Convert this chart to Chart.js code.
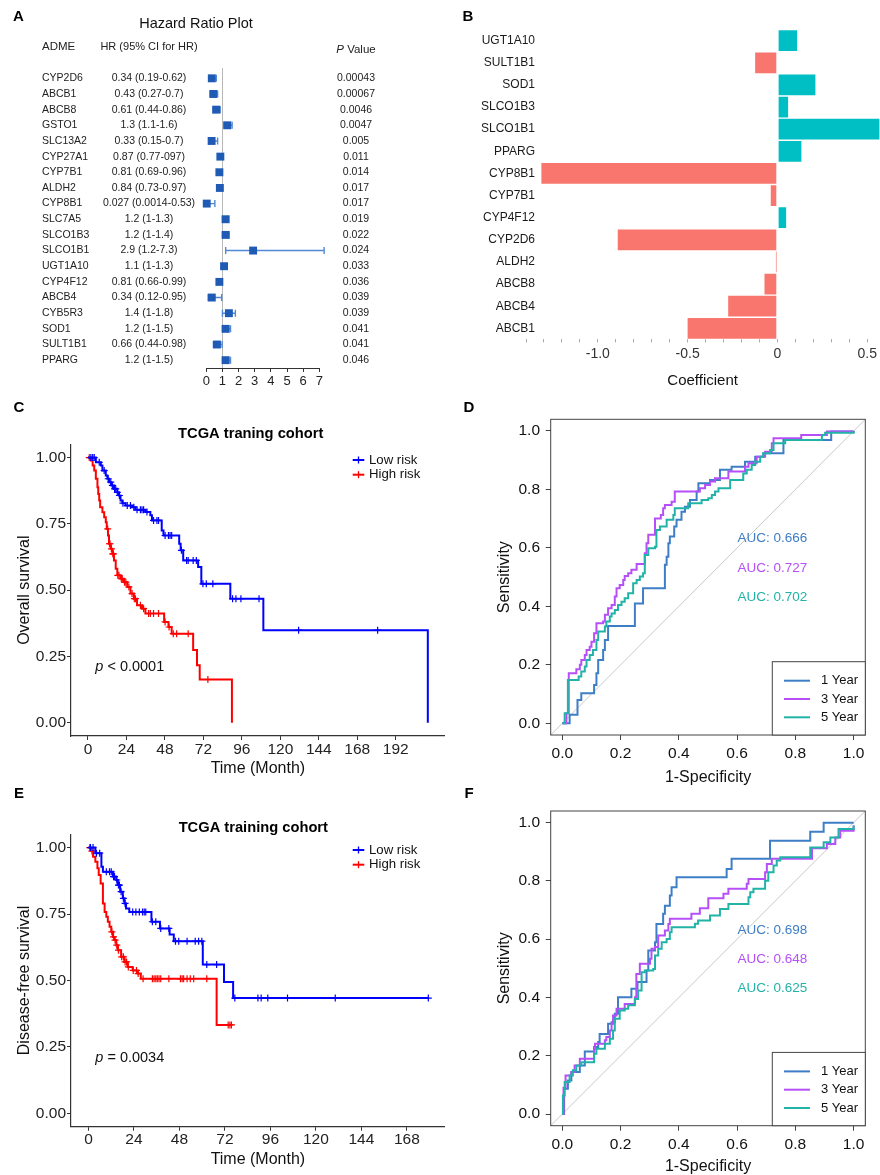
<!DOCTYPE html>
<html lang="en">
<head>
  <meta charset="UTF-8">
  <title>ADME gene model: hazard ratios, coefficients, survival and ROC</title>
  <style>
    body { margin: 0; background: #fff; }
    #page { position: relative; width: 880px; height: 1175px; overflow: hidden; }
    canvas { position: absolute; }
  </style>
</head>
<body>
<div id="page">
  <canvas id="chartA" width="440" height="395" style="left:0;top:0"></canvas>
  <canvas id="chartB" width="440" height="395" style="left:440px;top:0"></canvas>
  <canvas id="chartC" width="450" height="380" style="left:0;top:400px"></canvas>
  <canvas id="chartD" width="440" height="390" style="left:440px;top:400px"></canvas>
  <canvas id="chartE" width="450" height="395" style="left:0;top:780px"></canvas>
  <canvas id="chartF" width="440" height="398" style="left:440px;top:780px"></canvas>
</div>

<script src="https://cdn.jsdelivr.net/npm/chart.js"></script>
<script>
  // ---- A: univariate Cox results ----
  const admeGenes = ['CYP2D6', 'ABCB1', 'ABCB8', 'GSTO1', 'SLC13A2', 'CYP27A1', 'CYP7B1', 'ALDH2', 'CYP8B1',
    'SLC7A5', 'SLCO1B3', 'SLCO1B1', 'UGT1A10', 'CYP4F12', 'ABCB4', 'CYB5R3', 'SOD1', 'SULT1B1', 'PPARG'];
  const hrValue = [0.34, 0.43, 0.61, 1.3, 0.33, 0.87, 0.81, 0.84, 0.027, 1.2, 1.2, 2.9, 1.1, 0.81, 0.34, 1.4, 1.2, 0.66, 1.2];
  const hrLow = [0.19, 0.27, 0.44, 1.1, 0.15, 0.77, 0.69, 0.73, 0.0014, 1, 1, 1.2, 1, 0.66, 0.12, 1, 1, 0.44, 1];
  const hrHigh = [0.62, 0.7, 0.86, 1.6, 0.7, 0.97, 0.96, 0.97, 0.53, 1.3, 1.4, 7.3, 1.3, 0.99, 0.95, 1.8, 1.5, 0.98, 1.5];
  const hrLabel = ['0.34 (0.19-0.62)', '0.43 (0.27-0.7)', '0.61 (0.44-0.86)', '1.3 (1.1-1.6)', '0.33 (0.15-0.7)',
    '0.87 (0.77-097)', '0.81 (0.69-0.96)', '0.84 (0.73-0.97)', '0.027 (0.0014-0.53)', '1.2 (1-1.3)', '1.2 (1-1.4)',
    '2.9 (1.2-7.3)', '1.1 (1-1.3)', '0.81 (0.66-0.99)', '0.34 (0.12-0.95)', '1.4 (1-1.8)', '1.2 (1-1.5)',
    '0.66 (0.44-0.98)', '1.2 (1-1.5)'];
  const pValue = ['0.00043', '0.00067', '0.0046', '0.0047', '0.005', '0.011', '0.014', '0.017', '0.017', '0.019',
    '0.022', '0.024', '0.033', '0.036', '0.039', '0.039', '0.041', '0.041', '0.046'];
  const hrTicks = [0, 1, 2, 3, 4, 5, 6, 7];

  // ---- B: LASSO coefficients ----
  const coefGenes = ['UGT1A10', 'SULT1B1', 'SOD1', 'SLCO1B3', 'SLCO1B1', 'PPARG', 'CYP8B1', 'CYP7B1', 'CYP4F12',
    'CYP2D6', 'ALDH2', 'ABCB8', 'ABCB4', 'ABCB1'];
  const coefValue = [0.113, -0.128, 0.215, 0.063, 0.62, 0.137, -1.318, -0.041, 0.052, -0.893, -0.011, -0.076, -0.278, -0.504];
  const coefTicks = [-1.4, -1.3, -1.2, -1.1, -1.0, -0.9, -0.8, -0.7, -0.6, -0.5, -0.4, -0.3, -0.2, -0.1,
    0, 0.1, 0.2, 0.3, 0.4, 0.5];
  const coefTickText = { '-1': '-1.0', '-0.5': '-0.5', '0': '0', '0.5': '0.5' };

  // ---- C: overall survival (months) ----
  const osLowTime = [4.9, 8.0, 9.0, 11.1, 12.1, 13.1, 14.6, 16.2, 18.3, 19.3, 20.3, 21.4, 23.4, 27.5, 29.6, 35.8,
    38.9, 39.9, 46.0, 47.1, 56.9, 57.8, 59.4, 68.7, 70.7, 88.8, 109.4, 212.0];
  const osLowSurv = [0.982, 0.970, 0.951, 0.932, 0.920, 0.907, 0.895, 0.882, 0.869, 0.857, 0.838, 0.828, 0.819,
    0.813, 0.803, 0.795, 0.782, 0.763, 0.725, 0.706, 0.675, 0.650, 0.612, 0.587, 0.524, 0.468, 0.349, 0];
  const osLowCensor = [1.8, 2.9, 3.9, 7.0, 10.1, 12.6, 14.2, 15.2, 16.6, 17.3, 18.3, 19.6, 21.8, 24.5, 26.5, 28.6,
    30.6, 32.7, 33.7, 34.7, 36.8, 40.9, 43.0, 44.0, 48.1, 50.2, 51.2, 52.2, 58.3, 61.5, 62.5, 65.6, 67.6, 71.7, 73.8,
    77.9, 90.2, 92.3, 95.4, 106.7, 131.4, 180.7];
  const osHighTime = [1.8, 2.9, 3.9, 4.9, 5.9, 6.4, 7.0, 7.6, 9.0, 10.1, 11.1, 11.7, 12.5, 13.1, 14.2, 15.2, 16.2,
    17.3, 18.3, 20.3, 22.4, 24.5, 26.5, 28.6, 30.6, 33.7, 35.8, 47.5, 50.2, 52.2, 65.6, 68.0, 69.7, 89.8];
  const osHighSurv = [0.989, 0.970, 0.951, 0.920, 0.888, 0.863, 0.838, 0.813, 0.794, 0.775, 0.756, 0.731, 0.706,
    0.675, 0.656, 0.637, 0.612, 0.581, 0.556, 0.543, 0.530, 0.512, 0.487, 0.468, 0.443, 0.430, 0.412, 0.380, 0.361,
    0.336, 0.274, 0.217, 0.163, 0];
  const osHighCensor = [0.8, 12.3, 13.4, 13.7, 14.6, 15.5, 15.8, 18.6, 19.3, 20.8, 21.4, 22.8, 23.6, 25.5, 27.5,
    28.9, 29.6, 32.7, 34.7, 37.8, 38.9, 40.9, 44.0, 48.1, 50.6, 53.2, 55.3, 62.5, 74.8];
  const osMonthTicks = [0, 24, 48, 72, 96, 120, 144, 168, 192];

  // ---- E: disease-free survival (months) ----
  const dfsLowTime = [3.6, 6.8, 7.6, 12.9, 14.6, 15.5, 16.7, 18.1, 19.0, 19.8, 21.5, 33.2, 37.7, 42.8, 45.0, 60.3,
    71.5, 76.3];
  const dfsLowSurv = [0.979, 0.928, 0.909, 0.891, 0.878, 0.859, 0.834, 0.809, 0.790, 0.771, 0.758, 0.721, 0.696,
    0.673, 0.648, 0.560, 0.494, 0.434];
  const dfsLowCensor = [1.0, 2.4, 4.2, 5.9, 9.4, 11.1, 12.0, 13.2, 13.7, 14.9, 15.8, 16.3, 17.2, 18.4, 19.3, 23.3,
    25.0, 26.8, 28.5, 29.4, 30.2, 33.7, 35.5, 38.1, 42.4, 45.9, 47.6, 52.0, 56.3, 58.1, 59.8, 62.4, 67.6, 77.2, 89.4,
    91.1, 94.6, 105.0, 130.2, 179.3];
  const dfsHighTime = [1.5, 2.4, 3.6, 4.7, 5.4, 6.4, 7.6, 8.5, 9.4, 10.2, 11.1, 12.0, 12.9, 13.7, 14.6, 15.5, 17.2,
    18.9, 20.7, 23.3, 25.9, 27.6, 67.6];
  const dfsHighSurv = [0.987, 0.966, 0.947, 0.922, 0.897, 0.865, 0.790, 0.758, 0.740, 0.721, 0.702, 0.683, 0.664,
    0.652, 0.633, 0.614, 0.589, 0.570, 0.551, 0.538, 0.526, 0.507, 0.333];
  const dfsHighCensor = [0.7, 1.8, 12.3, 13.2, 14.0, 14.9, 15.8, 17.5, 18.4, 19.3, 20.1, 21.0, 23.6, 25.3, 26.2,
    28.8, 33.7, 34.6, 35.5, 36.3, 37.2, 38.1, 42.4, 48.5, 49.4, 50.2, 52.0, 53.7, 55.5, 62.4, 73.7, 74.6, 75.4];
  const dfsMonthTicks = [0, 24, 48, 72, 96, 120, 144, 168];
  const survTicks = [0, 0.25, 0.5, 0.75, 1];

  // ---- D / F: time-dependent ROC, [1-specificity, sensitivity] ----
  const rocOs1y = [[0,0],[0.025,0.029],[0.052,0.080],[0.065,0.103],[0.109,0.131],[0.117,0.171],[0.123,0.217],
    [0.140,0.251],[0.146,0.285],[0.157,0.333],[0.249,0.410],[0.277,0.462],[0.352,0.542],[0.358,0.570],[0.364,0.616],
    [0.369,0.639],[0.384,0.673],[0.392,0.696],[0.409,0.724],[0.421,0.741],[0.438,0.764],[0.461,0.793],[0.467,0.821],
    [0.507,0.832],[0.541,0.867],[0.581,0.878],[0.627,0.895],[0.662,0.912],[0.690,0.924],[0.759,0.969],[0.923,0.998],[1,1]];
  const rocOs3y = [[0,0],[0.014,0.034],[0.022,0.171],[0.048,0.185],[0.060,0.200],[0.065,0.217],[0.077,0.234],
    [0.083,0.251],[0.094,0.262],[0.100,0.279],[0.109,0.308],[0.117,0.342],[0.140,0.348],[0.146,0.371],[0.157,0.394],
    [0.169,0.405],[0.180,0.434],[0.186,0.462],[0.197,0.473],[0.209,0.490],[0.214,0.504],[0.226,0.513],[0.237,0.525],
    [0.255,0.545],[0.283,0.582],[0.289,0.616],[0.295,0.645],[0.318,0.701],[0.338,0.713],[0.346,0.736],[0.352,0.747],
    [0.375,0.758],[0.386,0.793],[0.472,0.804],[0.490,0.815],[0.507,0.827],[0.524,0.838],[0.570,0.861],[0.627,0.878],
    [0.639,0.890],[0.667,0.912],[0.696,0.929],[0.719,0.958],[0.725,0.975],[0.820,0.986],[0.908,0.998],[1,1]];
  const rocOs5y = [[0,0],[0.008,0.034],[0.019,0.148],[0.056,0.160],[0.065,0.177],[0.077,0.194],[0.083,0.217],
    [0.094,0.234],[0.105,0.251],[0.117,0.285],[0.123,0.314],[0.146,0.331],[0.151,0.348],[0.163,0.365],[0.169,0.376],
    [0.180,0.388],[0.191,0.405],[0.203,0.416],[0.214,0.428],[0.226,0.445],[0.243,0.479],[0.255,0.490],[0.266,0.502],
    [0.277,0.513],[0.283,0.576],[0.295,0.599],[0.318,0.604],[0.323,0.661],[0.335,0.673],[0.358,0.696],[0.381,0.713],
    [0.386,0.736],[0.432,0.753],[0.478,0.764],[0.501,0.770],[0.513,0.781],[0.524,0.793],[0.536,0.804],[0.576,0.832],
    [0.621,0.855],[0.633,0.867],[0.650,0.884],[0.662,0.895],[0.679,0.912],[0.690,0.924],[0.713,0.935],[0.725,0.958],
    [0.765,0.969],[0.891,0.986],[0.902,0.994],[1,1]];
  const rocDfs1y = [[0,0],[0.006,0.087],[0.019,0.115],[0.031,0.144],[0.060,0.167],[0.077,0.215],[0.109,0.230],
    [0.123,0.247],[0.128,0.275],[0.157,0.310],[0.169,0.315],[0.180,0.344],[0.191,0.401],[0.237,0.430],[0.258,0.453],
    [0.289,0.493],[0.295,0.561],[0.318,0.590],[0.323,0.652],[0.346,0.687],[0.352,0.715],[0.369,0.750],[0.375,0.778],
    [0.392,0.813],[0.564,0.841],[0.581,0.876],[0.713,0.938],[0.851,0.969],[0.897,1.0],[1,1]];
  const rocDfs3y = [[0,0],[0.004,0.090],[0.011,0.132],[0.031,0.144],[0.042,0.167],[0.060,0.190],[0.109,0.224],
    [0.112,0.241],[0.146,0.253],[0.151,0.264],[0.163,0.287],[0.169,0.310],[0.174,0.338],[0.186,0.361],[0.214,0.378],
    [0.249,0.401],[0.254,0.481],[0.266,0.516],[0.301,0.533],[0.306,0.567],[0.318,0.573],[0.329,0.613],[0.352,0.630],
    [0.364,0.652],[0.369,0.670],[0.443,0.687],[0.472,0.706],[0.501,0.741],[0.553,0.756],[0.570,0.773],[0.633,0.790],
    [0.639,0.807],[0.696,0.830],[0.702,0.858],[0.719,0.876],[0.857,0.912],[0.908,0.927],[0.937,0.949],[0.954,0.972],[1,0.99]];
  const rocDfs5y = [[0,0],[0.002,0.064],[0.008,0.110],[0.025,0.132],[0.036,0.150],[0.048,0.167],[0.065,0.178],
    [0.109,0.207],[0.117,0.224],[0.146,0.241],[0.163,0.258],[0.174,0.287],[0.180,0.327],[0.197,0.355],[0.214,0.361],
    [0.226,0.373],[0.249,0.395],[0.260,0.424],[0.272,0.487],[0.283,0.493],[0.312,0.498],[0.318,0.544],[0.329,0.567],
    [0.341,0.590],[0.358,0.601],[0.369,0.624],[0.375,0.641],[0.455,0.653],[0.466,0.664],[0.507,0.681],[0.541,0.704],
    [0.570,0.721],[0.639,0.744],[0.645,0.761],[0.656,0.773],[0.696,0.801],[0.707,0.830],[0.725,0.853],[0.736,0.870],
    [0.748,0.881],[0.851,0.915],[0.897,0.933],[0.920,0.949],[0.948,0.978],[1,0.99]];
  const rocYears = ['1 Year', '3 Year', '5 Year'];
  const aucOs = ['0.666', '0.727', '0.702'];
  const aucDfs = ['0.698', '0.648', '0.625'];
  const rocTicks = [0, 0.2, 0.4, 0.6, 0.8, 1.0];

  // ---- shared style ----
  const FF = '"Liberation Sans", Arial, sans-serif';
  const F = (size, style) => (style || 'normal') + ' ' + size + 'px ' + FF;
  const rocColors = ['#3d7ec6', '#b64ff7', '#22b3a8'];
  const lowColor = '#0000ff', highColor = '#ff0000';

  Chart.defaults.font.family = FF;
  Chart.defaults.color = '#222';
  Chart.defaults.animation = false;
  Chart.defaults.responsive = false;
  Chart.defaults.devicePixelRatio = 1;
  Chart.defaults.plugins.legend.display = false;
  Chart.defaults.plugins.tooltip.enabled = false;

  function drawText(ctx, parts, x, y, align, color) {
    ctx.save();
    ctx.textBaseline = 'middle';
    ctx.textAlign = 'left';
    ctx.fillStyle = color || '#222';
    let w = 0;
    parts.forEach(p => { ctx.font = p[1]; w += ctx.measureText(p[0]).width; });
    let cx = align === 'center' ? x - w / 2 : (align === 'right' ? x - w : x);
    parts.forEach(p => {
      ctx.font = p[1];
      ctx.fillText(p[0], cx, y);
      cx += ctx.measureText(p[0]).width;
    });
    ctx.restore();
  }

  const fixTicks = list => scale => { scale.ticks = list.map(v => ({ value: v })); };

  // ================= A =================
  const forestPlugin = {
    id: 'forest',
    beforeDatasetsDraw(chart) {
      const { ctx, chartArea, scales: { x, y } } = chart;
      ctx.save();
      ctx.strokeStyle = '#b8b8b8';
      ctx.lineWidth = 1;
      const x1 = Math.round(x.getPixelForValue(1)) + 0.5;
      ctx.beginPath();
      ctx.moveTo(x1, 68);
      ctx.lineTo(x1, chartArea.bottom);
      ctx.stroke();
      ctx.strokeStyle = '#5288d6';
      ctx.lineWidth = 1.4;
      hrLow.forEach((lo, i) => {
        const py = y.getPixelForValue(i);
        const a = x.getPixelForValue(lo), b = x.getPixelForValue(hrHigh[i]);
        ctx.beginPath();
        ctx.moveTo(a, py); ctx.lineTo(b, py);
        ctx.moveTo(a, py - 3.5); ctx.lineTo(a, py + 3.5);
        ctx.moveTo(b, py - 3.5); ctx.lineTo(b, py + 3.5);
        ctx.stroke();
      });
      ctx.restore();
    },
    afterDraw(chart) {
      const { ctx, scales: { y } } = chart;
      drawText(ctx, [['A', F(15, 'bold')]], 18.5, 17, 'center', '#000');
      drawText(ctx, [['Hazard Ratio Plot', F(14.5)]], 196, 24, 'center', '#111');
      drawText(ctx, [['ADME', F(11.5)]], 42, 47, 'left');
      drawText(ctx, [['HR (95% CI for HR)', F(11)]], 149, 47, 'center');
      drawText(ctx, [['P', F(11.5, 'italic')], [' Value', F(11.5)]], 356, 50, 'center');
      admeGenes.forEach((g, i) => {
        const py = y.getPixelForValue(i);
        drawText(ctx, [[g, F(10.5)]], 42, py, 'left');
        drawText(ctx, [[hrLabel[i], F(10.5)]], 149, py, 'center');
        drawText(ctx, [[pValue[i], F(10.5)]], 356, py, 'center');
      });
    }
  };

  new Chart(document.getElementById('chartA'), {
    type: 'scatter',
    data: {
      datasets: [{
        data: hrValue.map((v, i) => ({ x: v, y: i })),
        pointStyle: 'rect',
        pointRadius: 5.6,
        backgroundColor: '#1f5bb5',
        borderWidth: 0,
        clip: false
      }]
    },
    options: {
      layout: { padding: { left: 206.3, right: 120.7, top: 70.5, bottom: 0 } },
      scales: {
        x: {
          type: 'linear', min: 0, max: 7,
          afterBuildTicks: fixTicks(hrTicks),
          afterFit: s => { s.height = 27; },
          grid: { drawOnChartArea: false, tickLength: 4, color: '#333' },
          border: { color: '#333', width: 1 },
          ticks: { font: { size: 13 }, color: '#222', padding: 2, autoSkip: false, maxRotation: 0 }
        },
        y: { type: 'linear', min: -0.5, max: 18.5, reverse: true, display: false }
      }
    },
    plugins: [forestPlugin]
  });

  // ================= B =================
  const coefPlugin = {
    id: 'coefLabels',
    afterDraw(chart) {
      const { ctx, scales: { y } } = chart;
      drawText(ctx, [['B', F(15, 'bold')]], 28, 17, 'center', '#000');
      coefGenes.forEach((g, i) => {
        drawText(ctx, [[g, F(12)]], 95, y.getPixelForValue(i), 'right', '#1a1a1a');
      });
    }
  };

  new Chart(document.getElementById('chartB'), {
    type: 'bar',
    data: {
      labels: coefGenes,
      datasets: [{
        data: coefValue,
        backgroundColor: coefValue.map(v => v >= 0 ? '#00bfc4' : '#f8766d'),
        borderColor: '#ffffff',
        borderWidth: 1,
        borderSkipped: false,
        barPercentage: 1,
        categoryPercentage: 1
      }]
    },
    options: {
      indexAxis: 'y',
      layout: { padding: { left: 86, right: 0, top: 29.6, bottom: 0 } },
      scales: {
        y: { type: 'category', display: false, offset: true },
        x: {
          type: 'linear', min: -1.4, max: 0.567,
          afterBuildTicks: fixTicks(coefTicks),
          afterFit: s => { s.height = 55.6; },
          grid: { drawOnChartArea: false, tickLength: 3, color: '#aaaaaa' },
          border: { display: false },
          ticks: {
            font: { size: 14 }, color: '#333', padding: 3, autoSkip: false, maxRotation: 0,
            callback: v => coefTickText[String(Math.round(v * 10) / 10)] || ''
          },
          title: { display: true, text: 'Coefficient', font: { size: 15 }, color: '#111', padding: { top: 0, bottom: 5.3 } }
        }
      }
    },
    plugins: [coefPlugin]
  });

  // ================= C / E =================
  function kmLine(times, surv, censor) {
    const pts = [{ x: 0, y: 1 }];
    times.forEach((t, i) => pts.push({ x: t, y: surv[i] }));
    const last = pts[pts.length - 1];
    const tEnd = Math.max(...censor);
    if (tEnd > last.x) pts.push({ x: tEnd, y: last.y });
    return pts;
  }
  function survAt(times, surv, t) {
    let s = 1;
    times.forEach((ti, i) => { if (ti <= t) s = surv[i]; });
    return s;
  }
  function kmMarks(times, surv, censor) {
    return censor.map(t => ({ x: t, y: survAt(times, surv, t) }));
  }

  function kmChart(id, cfg) {
    const annot = {
      id: 'kmAnnot',
      afterDraw(chart) {
        const ctx = chart.ctx;
        drawText(ctx, [[cfg.letter, F(15, 'bold')]], 19, cfg.letterY, 'center', '#000');
        drawText(ctx, [[cfg.title, F(14.7, 'bold')]], cfg.titleX, cfg.titleY, 'center', '#000');
        [['Low risk', lowColor], ['High risk', highColor]].forEach((it, i) => {
          const yy = cfg.legendY + i * 14.7;
          ctx.save();
          ctx.strokeStyle = it[1];
          ctx.lineWidth = 2;
          ctx.beginPath(); ctx.moveTo(352.7, yy); ctx.lineTo(364.3, yy); ctx.stroke();
          ctx.lineWidth = 1.3;
          ctx.beginPath(); ctx.moveTo(358.5, yy - 3.5); ctx.lineTo(358.5, yy + 3.5); ctx.stroke();
          ctx.restore();
          drawText(ctx, [[it[0], F(13.2)]], 369, yy, 'left', '#111');
        });
        drawText(ctx, [['p', F(14.5, 'italic')], [cfg.pText, F(14.5)]], 95.3, cfg.pY, 'left', '#111');
      }
    };
    const stepStyle = c => ({ showLine: true, stepped: 'before', borderColor: c, borderWidth: 2, pointRadius: 0, fill: false });
    const markStyle = c => ({ showLine: false, pointStyle: 'cross', pointRadius: 3.5, borderColor: c, borderWidth: 1.2 });
    new Chart(document.getElementById(id), {
      type: 'scatter',
      data: {
        datasets: [
          Object.assign({ data: kmLine(cfg.lowT, cfg.lowS, cfg.lowC) }, stepStyle(lowColor)),
          Object.assign({ data: kmMarks(cfg.lowT, cfg.lowS, cfg.lowC) }, markStyle(lowColor)),
          Object.assign({ data: kmLine(cfg.highT, cfg.highS, cfg.highC) }, stepStyle(highColor)),
          Object.assign({ data: kmMarks(cfg.highT, cfg.highS, cfg.highC) }, markStyle(highColor))
        ]
      },
      options: {
        layout: { padding: { left: 0, right: 0, top: cfg.top, bottom: 0 } },
        scales: {
          x: {
            type: 'linear', min: cfg.xmin, max: cfg.xmax,
            afterBuildTicks: fixTicks(cfg.xticks),
            afterFit: s => { s.height = cfg.xh; },
            grid: { drawOnChartArea: false, tickLength: 4, color: '#333' },
            border: { color: '#333', width: 1.2 },
            ticks: { font: { size: 15.5 }, color: '#222', padding: 0, autoSkip: false, maxRotation: 0 },
            title: { display: true, text: 'Time (Month)', font: { size: 16 }, color: '#111', padding: { top: 0, bottom: cfg.xtpb } }
          },
          y: {
            type: 'linear', min: -0.05, max: 1.05,
            afterBuildTicks: fixTicks(survTicks),
            afterFit: s => { s.width = 71; },
            grid: { drawOnChartArea: false, tickLength: 4, color: '#333' },
            border: { color: '#333', width: 1.2 },
            ticks: { font: { size: 15.5 }, color: '#222', padding: 1, callback: v => v.toFixed(2) },
            title: { display: true, text: cfg.ytitle, font: { size: 16 }, color: '#111', padding: { top: 15.4, bottom: 0 } }
          }
        }
      },
      plugins: [annot]
    });
  }

  kmChart('chartC', {
    letter: 'C', letterY: 8, title: 'TCGA traning cohort', titleX: 250.7, titleY: 34.3,
    legendY: 60, pText: ' < 0.0001', pY: 266.7,
    lowT: osLowTime, lowS: osLowSurv, lowC: osLowCensor,
    highT: osHighTime, highS: osHighSurv, highC: osHighCensor,
    top: 44.3, xh: 44, xtpb: 2.1, xmin: -10.6, xmax: 222.6, xticks: osMonthTicks, ytitle: 'Overall survival'
  });

  kmChart('chartE', {
    letter: 'E', letterY: 13.5, title: 'TCGA training cohort', titleX: 253.3, titleY: 47.7,
    legendY: 70, pText: ' = 0.0034', pY: 278.3,
    lowT: dfsLowTime, lowS: dfsLowSurv, lowC: dfsLowCensor,
    highT: dfsHighTime, highS: dfsHighSurv, highC: dfsHighCensor,
    top: 54.3, xh: 48.3, xtpb: 6.1, xmin: -9.24, xmax: 188, xticks: dfsMonthTicks, ytitle: 'Disease-free survival'
  });

  // ================= D / F =================
  function rocChart(id, cfg) {
    const annot = {
      id: 'rocAnnot',
      beforeDatasetsDraw(chart) {
        const { ctx, scales: { x, y } } = chart;
        ctx.save();
        ctx.strokeStyle = '#c8c8c8';
        ctx.lineWidth = 1;
        ctx.beginPath();
        ctx.moveTo(x.getPixelForValue(-0.04), y.getPixelForValue(-0.04));
        ctx.lineTo(x.getPixelForValue(1.04), y.getPixelForValue(1.04));
        ctx.stroke();
        ctx.restore();
      },
      afterDraw(chart) {
        const { ctx, chartArea: ca, scales: { x, y } } = chart;
        ctx.save();
        ctx.strokeStyle = '#444';
        ctx.lineWidth = 1;
        ctx.strokeRect(ca.left, ca.top, ca.right - ca.left, ca.bottom - ca.top);
        const L = ca.right - 93, T = ca.bottom - 73.3;
        ctx.fillStyle = '#fff';
        ctx.fillRect(L, T, 93, 73.3);
        ctx.strokeRect(L, T, 93, 73.3);
        rocYears.forEach((lab, i) => {
          const yy = T + 19 + i * 18.3;
          ctx.strokeStyle = rocColors[i];
          ctx.lineWidth = 2;
          ctx.beginPath(); ctx.moveTo(L + 11.7, yy); ctx.lineTo(L + 37.7, yy); ctx.stroke();
          drawText(ctx, [[lab, F(13)]], L + 48.7, yy, 'left', '#111');
        });
        ctx.restore();
        cfg.auc.forEach((a, i) => {
          drawText(ctx, [['AUC: ' + a, F(13.5)]], x.getPixelForValue(0.721), y.getPixelForValue([0.632, 0.532, 0.431][i]), 'center', rocColors[i]);
        });
        drawText(ctx, [[cfg.letter, F(15, 'bold')]], 29, cfg.letterY, 'center', '#000');
      }
    };
    new Chart(document.getElementById(id), {
      type: 'scatter',
      data: {
        datasets: cfg.curves.map((c, i) => ({
          data: c.map(p => ({ x: p[0], y: p[1] })),
          showLine: true, stepped: 'before', borderColor: rocColors[i], borderWidth: 2,
          pointRadius: 0, fill: false, order: 2 - i
        }))
      },
      options: {
        layout: { padding: { left: 0, right: 14.7, top: cfg.top, bottom: 0 } },
        scales: {
          x: {
            type: 'linear', min: -0.04, max: 1.04,
            afterBuildTicks: fixTicks(rocTicks),
            afterFit: s => { s.height = cfg.xh; },
            grid: { drawOnChartArea: false, tickLength: 5, color: '#444' },
            border: { display: false },
            ticks: { font: { size: 15.5 }, color: '#111', padding: 4.5, autoSkip: false, maxRotation: 0, callback: v => v.toFixed(1) },
            title: { display: true, text: '1-Specificity', font: { size: 16 }, color: '#111', padding: { top: 0, bottom: cfg.xtpb } }
          },
          y: {
            type: 'linear', min: -0.04, max: 1.04,
            afterBuildTicks: fixTicks(rocTicks),
            afterFit: s => { s.width = 110.7; },
            grid: { drawOnChartArea: false, tickLength: 5, color: '#444' },
            border: { display: false },
            ticks: { font: { size: 15.5 }, color: '#111', padding: 5.7, callback: v => v.toFixed(1) },
            title: { display: true, text: 'Sensitivity', font: { size: 16 }, color: '#111', padding: { top: 55.4, bottom: 0 } }
          }
        }
      },
      plugins: [annot]
    });
  }

  rocChart('chartD', { letter: 'D', letterY: 8.3, curves: [rocOs1y, rocOs3y, rocOs5y], auc: aucOs, top: 19.3, xh: 55, xtpb: 2.9 });
  rocChart('chartF', { letter: 'F', letterY: 13.5, curves: [rocDfs1y, rocDfs3y, rocDfs5y], auc: aucDfs, top: 31, xh: 52.3, xtpb: 1.7 });
</script>
</body>
</html>
